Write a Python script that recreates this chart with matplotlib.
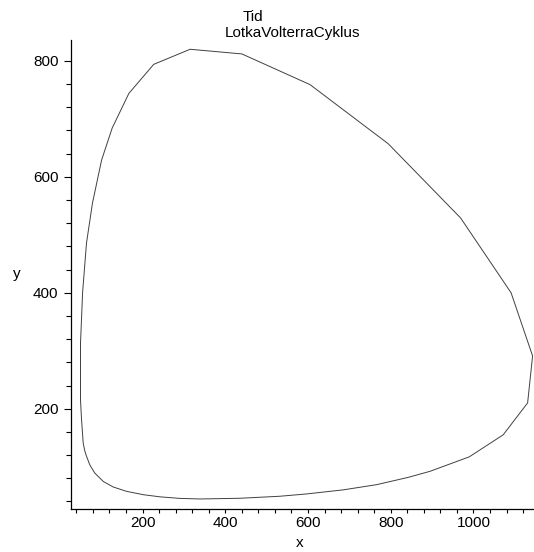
import matplotlib
matplotlib.use("Agg")
import matplotlib.pyplot as plt
from matplotlib.ticker import MultipleLocator

# prey / predator values
x = [50, 50, 52.5, 56.5, 60, 64.5, 72.5, 84.5, 105, 129, 161, 201.5, 242,
     290, 339, 435, 532, 597, 685, 766, 842, 895, 990, 1072, 1131, 1143,
     1091, 969, 794, 605, 440, 315, 227, 167, 126.5, 101, 79, 64.5, 55, 50]
y = [313, 215, 181, 141, 128, 118, 103, 89, 74.5, 65, 57.5, 51.7, 48,
     45.3, 44.3, 45.5, 49, 53, 60, 69, 81.5, 92, 117, 155, 210, 291,
     400, 529, 657, 759, 812, 820, 794, 744, 684, 629, 555, 486, 400, 313]

W, H = 534, 552
fig = plt.figure(figsize=(W / 100, H / 100), dpi=100)
ax = fig.add_axes([71 / W, (H - 509) / H, (533 - 71) / W, (509 - 40) / H])

ax.plot(x, y, color="#404040", linewidth=0.7)

ax.set_xlim(27, 1144)
ax.set_ylim(27, 836)
ax.xaxis.set_major_locator(MultipleLocator(200))
ax.xaxis.set_minor_locator(MultipleLocator(40))
ax.yaxis.set_major_locator(MultipleLocator(200))
ax.yaxis.set_minor_locator(MultipleLocator(40))

for s in ["top", "right"]:
    ax.spines[s].set_visible(False)
for s in ["left", "bottom"]:
    ax.spines[s].set_linewidth(0.9)

font = ["Liberation Sans", "DejaVu Sans"]
fs = 11
ax.tick_params(axis="y", which="major", length=5, width=0.8, pad=4, labelsize=fs)
ax.tick_params(axis="y", which="minor", length=3.5, width=0.8)
ax.tick_params(axis="x", which="major", length=3, width=0.8, pad=2, labelsize=fs)
ax.tick_params(axis="x", which="minor", length=3, width=0.8)
for lab in ax.get_xticklabels() + ax.get_yticklabels():
    lab.set_family(font)

fig.text(253 / W, 1 - 17 / H, "Tid", ha="center", va="center", fontsize=fs, family=font)
fig.text(293 / W, 1 - 33 / H, "LotkaVolterraCyklus", ha="center", va="center",
         fontsize=fs, family=font)
fig.text(17 / W, 1 - 274 / H, "y", ha="center", va="center", fontsize=fs, family=font)
fig.text(300 / W, 1 - 543 / H, "x", ha="center", va="center", fontsize=fs, family=font)

fig.savefig("out.png", dpi=100)
